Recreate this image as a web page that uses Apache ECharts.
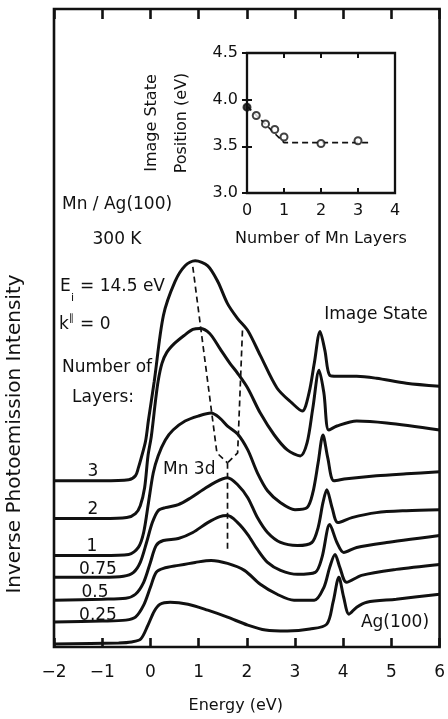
<!DOCTYPE html>
<html><head><meta charset="utf-8">
<script src="https://cdn.jsdelivr.net/npm/echarts@6/dist/echarts.min.js"></script>
<style>html,body{margin:0;padding:0;background:#fff}#c{width:448px;height:719px}</style>
</head><body><div id="c"></div><script>
// Main panel: energy (eV) vs inverse photoemission intensity (arb. units, offset curves)
const energyRange = [-2, 6];
const curve3 = [[-2,167],[-1,167],[-0.45,168],[-0.31,172],[-0.25,180],[-0.19,190],[-0.1,207],[-0.04,228],[0.08,267],[0.27,333],[0.51,367],[0.72,383],[0.93,388],[1.19,383],[1.4,367],[1.6,345],[1.81,330],[2.02,318],[2.28,293],[2.63,260],[2.94,245],[3.15,237],[3.29,255],[3.4,285],[3.52,317],[3.62,298],[3.72,273],[3.87,272],[4.28,272],[4.69,270],[5.31,265],[6,262]];
const curve2 = [[-2,129],[-1,129],[-0.49,130],[-0.31,134],[-0.21,142],[-0.12,160],[-0.05,192],[0.02,212],[0.1,245],[0.16,267],[0.24,285],[0.34,296],[0.5,305],[0.7,313],[0.88,319],[1.03,320],[1.23,315],[1.44,300],[1.65,285],[1.81,275],[2.02,260],[2.28,235],[2.57,213],[2.84,198],[3.11,192],[3.25,205],[3.37,240],[3.5,278],[3.6,255],[3.7,218],[3.87,222],[4.28,227],[4.9,225],[6,218]];
const curve1 = [[-2,92],[-1,92],[-0.45,93],[-0.25,100],[-0.14,115],[-0.04,145],[0.06,175],[0.16,192],[0.31,208],[0.47,218],[0.72,227],[0.99,232],[1.26,235],[1.44,230],[1.6,222],[1.81,214],[2.02,198],[2.22,175],[2.43,157],[2.7,145],[3.0,138],[3.25,140],[3.37,155],[3.48,185],[3.58,213],[3.68,190],[3.81,167],[4.07,169],[4.69,172],[5.31,174],[6,176]];
const curve075 = [[-2,70],[-1,70],[-0.56,71],[-0.35,75],[-0.21,85],[-0.08,105],[0.04,125],[0.16,137],[0.31,140],[0.58,143],[0.84,150],[1.09,158],[1.36,166],[1.6,170],[1.81,163],[2.02,150],[2.22,130],[2.43,115],[2.7,105],[3.05,102],[3.35,105],[3.48,120],[3.58,145],[3.66,158],[3.77,140],[3.89,125],[4.18,130],[4.69,135],[5.31,137],[6,138]];
const curve05 = [[-2,47],[-1,48],[-0.51,49],[-0.31,53],[-0.14,65],[0,85],[0.12,102],[0.27,107],[0.58,109],[0.88,115],[1.19,125],[1.44,131],[1.6,132],[1.81,125],[2.02,113],[2.22,98],[2.43,85],[2.7,77],[3.05,73],[3.42,75],[3.56,90],[3.72,123],[3.87,105],[4.01,95],[4.28,100],[4.9,105],[6,112]];
const curve025 = [[-2,25],[-1,26],[-0.51,27],[-0.31,30],[-0.14,42],[0,60],[0.12,75],[0.27,79],[0.58,82],[0.93,85],[1.26,87],[1.6,84],[1.95,77],[2.28,63],[2.63,53],[2.98,47],[3.4,47],[3.6,60],[3.72,80],[3.83,93],[3.93,80],[4.07,65],[4.38,72],[5.1,78],[6,83]];
const curveAg = [[-2,3],[-0.66,4],[-0.39,5],[-0.2,8],[-0.05,22],[0.08,36],[0.2,43],[0.41,45],[0.78,43],[1.19,37],[1.6,30],[2.02,22],[2.39,17],[2.84,16],[3.31,18],[3.66,23],[3.79,45],[3.91,70],[4.01,50],[4.12,33],[4.28,40],[4.49,45],[5.1,48],[6,53]];
// Dashed guide lines following the Mn 3d features
const guideLeft = [[0.88,382],[1.38,195],[1.6,185]];
const guideRight = [[1.91,318],[1.81,195],[1.6,185]];
const guideStem = [[1.6,185],[1.6,97]];
// Inset: image state position vs number of Mn layers
const insetLayers = [0, 0.25, 0.5, 0.75, 1, 2, 3];
const insetPosition = [3.92, 3.83, 3.74, 3.68, 3.60, 3.53, 3.56];
const fitLayers = [0, 1, 3.3];
const fitPosition = [3.93, 3.54, 3.54];

const FONT = 'DejaVu Sans';
const FW = 'normal';
const INK = '#111';
const chart = echarts.init(document.getElementById('c'), null, {renderer: 'canvas'});

function curveSeries(data) {
  return {type: 'line', xAxisIndex: 0, yAxisIndex: 0, data: data, smooth: 0.3, symbol: 'none',
    lineStyle: {color: INK, width: 3}, silent: true, z: 3};
}
function guideSeries(data) {
  return {type: 'line', xAxisIndex: 0, yAxisIndex: 0, data: data, symbol: 'none',
    lineStyle: {color: INK, width: 1.7, type: [6, 4]}, silent: true, z: 2};
}
function txt(text, x, y, size, align, extra) {
  return Object.assign({type: 'text', x: x, y: y, style: {text: text, fill: INK, font: FW + ' ' + size + 'px "' + FONT + '"', textAlign: align || 'left', textVerticalAlign: 'middle'}}, extra || {});
}
const minus = v => String(v).replace('-', '\u2212');

const option = {
  animation: false,
  backgroundColor: '#fff',
  textStyle: {fontFamily: FONT, fontWeight: FW, color: INK},
  grid: [
    {left: 54, top: 9, width: 389, height: 641, show: true, borderColor: INK, borderWidth: 2.6, backgroundColor: 'transparent'},
    {left: 247, top: 53, width: 148, height: 140, show: true, borderColor: INK, borderWidth: 2.3, backgroundColor: 'transparent'}
  ],
  xAxis: [
    {gridIndex: 0, type: 'value', position: 'bottom', min: energyRange[0], max: energyRange[1], interval: 1,
     axisLine: {show: false}, splitLine: {show: false},
     axisTick: {inside: true, length: 9, lineStyle: {color: INK, width: 2.6}},
     axisLabel: {fontSize: 17, fontFamily: FONT, fontWeight: FW, color: INK, margin: 17, formatter: minus},
     name: 'Energy (eV)', nameLocation: 'middle', nameGap: 51,
     nameTextStyle: {fontSize: 16, fontFamily: FONT, fontWeight: FW, color: INK, padding: [0, 22, 0, 0]}},
    {gridIndex: 0, type: 'value', position: 'top', min: energyRange[0], max: energyRange[1], interval: 1,
     axisLine: {show: false}, splitLine: {show: false}, axisLabel: {show: false},
     axisTick: {inside: true, length: 10, lineStyle: {color: INK, width: 2.6}}},
    {gridIndex: 1, type: 'value', position: 'bottom', min: 0, max: 4, interval: 1,
     axisLine: {show: false}, splitLine: {show: false},
     axisTick: {inside: true, length: 5, lineStyle: {color: INK, width: 2}},
     axisLabel: {fontSize: 16, fontFamily: FONT, fontWeight: FW, color: INK, margin: 10},
     name: 'Number of Mn Layers', nameLocation: 'middle', nameGap: 38,
     nameTextStyle: {fontSize: 16, fontFamily: FONT, fontWeight: FW, color: INK}},
    {gridIndex: 1, type: 'value', position: 'top', min: 0, max: 4, interval: 1,
     axisLine: {show: false}, splitLine: {show: false}, axisLabel: {show: false},
     axisTick: {inside: true, length: 5, lineStyle: {color: INK, width: 2}}}
  ],
  yAxis: [
    {gridIndex: 0, type: 'value', min: 0, max: 641, show: true, axisLine: {show: false}, axisTick: {show: false},
     axisLabel: {show: false}, splitLine: {show: false}},
    {gridIndex: 1, type: 'value', position: 'left', min: 3, max: 4.5, interval: 0.5,
     axisLine: {show: false}, splitLine: {show: false},
     axisTick: {inside: true, length: 5, lineStyle: {color: INK, width: 2}},
     axisLabel: {fontSize: 16, fontFamily: FONT, fontWeight: FW, color: INK, margin: 9, formatter: v => v.toFixed(1)},
     name: 'Image State\nPosition (eV)', nameLocation: 'middle', nameGap: 50,
     nameTextStyle: {fontSize: 16, fontFamily: FONT, fontWeight: FW, color: INK, lineHeight: 30}},
    {gridIndex: 1, type: 'value', position: 'right', min: 3, max: 4.5, interval: 0.5,
     axisLine: {show: false}, splitLine: {show: false}, axisLabel: {show: false},
     axisTick: {inside: true, length: 5, lineStyle: {color: INK, width: 2}}}
  ],
  series: [
    curveSeries(curve3), curveSeries(curve2), curveSeries(curve1), curveSeries(curve075),
    curveSeries(curve05), curveSeries(curve025), curveSeries(curveAg),
    guideSeries(guideLeft), guideSeries(guideRight), guideSeries(guideStem),
    {type: 'line', xAxisIndex: 2, yAxisIndex: 1, data: fitLayers.map((v, i) => [v, fitPosition[i]]), symbol: 'none',
     lineStyle: {color: INK, width: 1.7, type: [6, 4]}, silent: true, z: 2},
    {type: 'scatter', xAxisIndex: 2, yAxisIndex: 1, symbol: 'circle', symbolSize: 7, silent: true, z: 4,
     itemStyle: {color: '#fff', borderColor: INK, borderWidth: 2},
     data: insetLayers.map((v, i) => i === 0 ? {value: [v, insetPosition[i]], itemStyle: {color: INK}} : [v, insetPosition[i]])}
  ],
  graphic: [
    txt('Inverse Photoemission Intensity', 15, 434, 20, 'center', {rotation: Math.PI / 2}),
    txt('Mn / Ag(100)', 62, 205, 17),
    txt('300 K', 117, 240, 17, 'center'),
    txt('E', 60, 287, 17),
    txt('i', 71, 298, 11),
    txt('= 14.5 eV', 80, 287, 17),
    txt('k', 59, 325, 17),
    txt('\u2225', 69, 318, 10),
    txt('= 0', 80, 325, 17),
    txt('Number of', 62, 368, 17),
    txt('Layers:', 72, 398, 17),
    txt('Image State', 376, 315, 17, 'center'),
    txt('Mn 3d', 163, 470, 17),
    txt('3', 93, 472, 17, 'center'),
    txt('2', 93, 510, 17, 'center'),
    txt('1', 92, 547, 17, 'center'),
    txt('0.75', 98, 570, 17, 'center'),
    txt('0.5', 95, 593, 17, 'center'),
    txt('0.25', 98, 616, 17, 'center'),
    txt('Ag(100)', 395, 623, 17, 'center')
  ]
};
chart.setOption(option);
</script></body></html>
